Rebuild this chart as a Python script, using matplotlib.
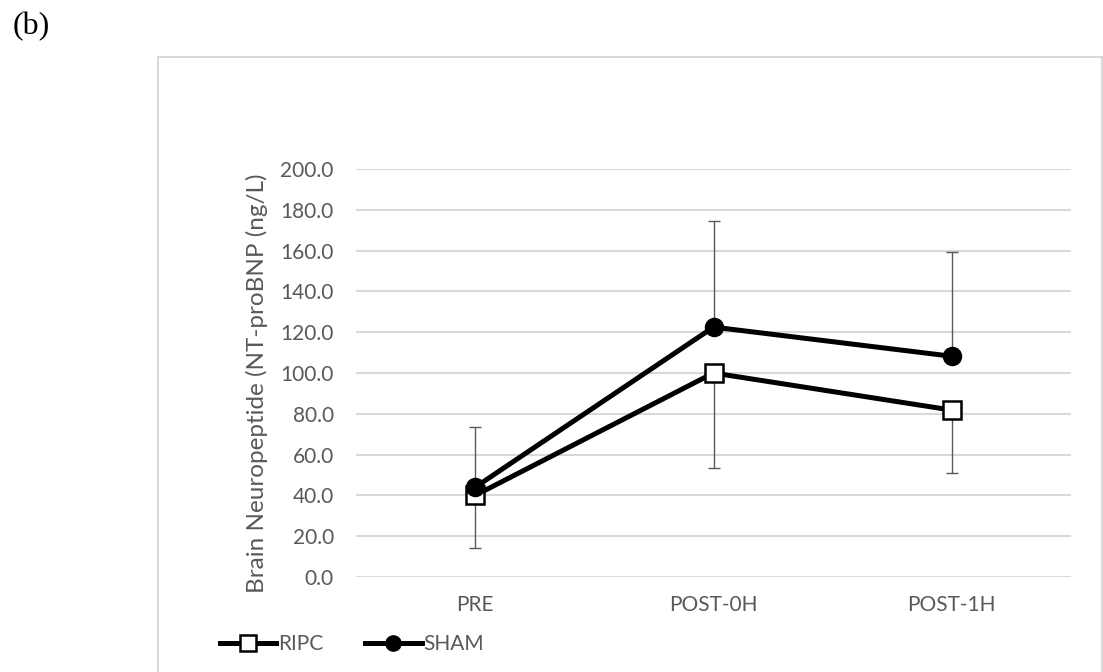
import matplotlib
matplotlib.use("Agg")
import matplotlib.pyplot as plt
from matplotlib.patches import Rectangle
from matplotlib.lines import Line2D

categories = ["PRE", "POST-0H", "POST-1H"]
ripc = [40.0, 100.0, 81.8]
ripc_err_minus = [25.8, 46.6, 30.8]
sham = [44.0, 122.5, 108.2]
sham_err_plus = [29.5, 52.0, 51.0]
yticks = [0, 20, 40, 60, 80, 100, 120, 140, 160, 180, 200]

plt.rcParams['font.family'] = ['Lato', 'DejaVu Sans']
gray = '#595959'

fig = plt.figure(figsize=(11.03, 6.72), dpi=100)
ax = fig.add_axes([356/1103, 1-577/672, (1071-356)/1103, (577-169)/672])

x = list(range(len(categories)))
ax.errorbar(x, sham, yerr=[[0]*3, sham_err_plus], fmt='none', ecolor=gray,
            elinewidth=1, capsize=4, capthick=1, zorder=2)
ax.errorbar(x, ripc, yerr=[ripc_err_minus, [0]*3], fmt='none', ecolor=gray,
            elinewidth=1, capsize=4, capthick=1, zorder=2)
ax.plot(x, ripc, color='black', lw=3.6, marker='s', markersize=13,
        markerfacecolor='white', markeredgecolor='black', markeredgewidth=1.8,
        zorder=3, label='RIPC')
ax.plot(x, sham, color='black', lw=3.6, marker='o', markersize=13,
        markerfacecolor='black', markeredgecolor='black', zorder=4, label='SHAM')

ax.set_xlim(-0.5, 2.5)
ax.set_ylim(0, 200)
ax.set_yticks(yticks)
ax.set_yticklabels([f"{v:.1f}" for v in yticks])
ax.set_xticks(x)
ax.set_xticklabels(categories)
ax.tick_params(axis='both', length=0, colors=gray, labelsize=15)
ax.tick_params(axis='y', pad=16)
ax.tick_params(axis='x', pad=13)
ax.grid(axis='y', color='#d9d9d9', lw=1.5)
ax.set_axisbelow(True)
for s in ax.spines.values():
    s.set_visible(False)
ax.set_ylabel("Brain Neuropeptide (NT-proBNP (ng/L)", color=gray, fontsize=17.5)
ax.yaxis.set_label_coords((257-356)/(1071-356), (577-383)/(577-169))
ax.yaxis.label.set_va('center')

handles = [
    Line2D([], [], color='black', lw=3.6, marker='s', markersize=11,
           markerfacecolor='white', markeredgecolor='black', markeredgewidth=1.8),
    Line2D([], [], color='black', lw=3.6, marker='o', markersize=11,
           markerfacecolor='black', markeredgecolor='black'),
]
leg = fig.legend(handles, ['RIPC', 'SHAM'], loc='center left',
                 bbox_to_anchor=(220/1103, 1-644/672), ncol=2, frameon=False,
                 fontsize=15, handlelength=2.7, handletextpad=0.1,
                 columnspacing=2.0, borderpad=0, borderaxespad=0)
for t in leg.get_texts():
    t.set_color(gray)

fig.patches.append(Rectangle((158/1103, -0.1), (1102-158)/1103, 1.1-57/672,
                             transform=fig.transFigure, fill=False,
                             edgecolor='#d9d9d9', lw=1.5, clip_on=False))

fig.text(13/1103, 1-27/672, "(b)", family='Liberation Serif', fontsize=23,
         va='center', ha='left', color='black')

fig.savefig("out.png", dpi=100)
